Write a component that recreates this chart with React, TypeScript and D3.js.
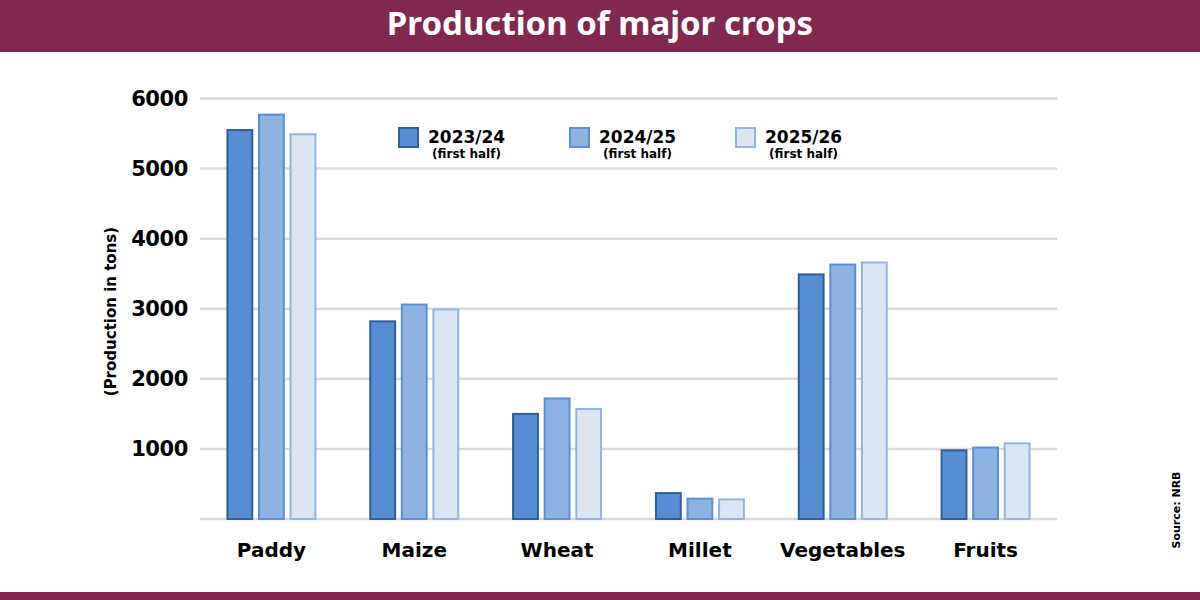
import React from 'react';
import * as d3 from 'd3';

const crops = ['Paddy', 'Maize', 'Wheat', 'Millet', 'Vegetables', 'Fruits'];
const seasons = ['2023/24', '2024/25', '2025/26'];
const prod2023 = [5550, 2820, 1500, 370, 3490, 980];
const prod2024 = [5770, 3060, 1720, 290, 3630, 1020];
const prod2025 = [5490, 2990, 1570, 280, 3660, 1080];
const yTicks = [1000, 2000, 3000, 4000, 5000, 6000];

const fills = ['#558ed5', '#8db3e2', '#dce6f2'];
const strokes = ['#2f5f92', '#5a8fd6', '#8eb5e4'];

const W = 1200;
const H = 600;
const maroon = '#7f2850';
const font = '"DejaVu Sans", Verdana, sans-serif';

const App: React.FC = () => {
  const series = [prod2023, prod2024, prod2025];

  const x0 = d3
    .scaleBand<string>()
    .domain(crops)
    .range([200, 1057])
    .paddingInner(0.37)
    .paddingOuter(0.185);
  const x1 = d3
    .scaleBand<number>()
    .domain([0, 1, 2])
    .range([0, x0.bandwidth()])
    .paddingInner(0.15);
  const y = d3.scaleLinear().domain([0, 6000]).range([519, 98.5]);

  const legendX = [398, 569, 735];

  return (
    <svg
      width={W}
      height={H}
      style={{ position: 'absolute', left: 0, top: 0, background: '#fff' }}
    >
      <rect x={0} y={0} width={W} height={H} fill='#fff' />
      {/* header band */}
      <rect x={0} y={0} width={W} height={52} fill={maroon} />
      <text
        x={600}
        y={35}
        textAnchor='middle'
        fill='#fff'
        fontFamily='"Noto Sans", sans-serif'
        fontWeight={700}
        fontSize={33}
      >
        Production of major crops
      </text>
      <rect x={0} y={592} width={W} height={8} fill={maroon} />

      {/* gridlines */}
      {[0, ...yTicks].map((t) => (
        <line
          key={t}
          x1={200}
          x2={1057}
          y1={y(t)}
          y2={y(t)}
          stroke='#d9d9d9'
          strokeWidth={2.5}
        />
      ))}
      {yTicks.map((t) => (
        <text
          key={t}
          x={188}
          y={y(t)}
          dy='0.36em'
          textAnchor='end'
          fontFamily={font}
          fontWeight={700}
          fontSize={21}
          letterSpacing={-0.4}
          fill='#000'
        >
          {t}
        </text>
      ))}
      <text
        transform={`translate(116,${y(2960)}) rotate(-90)`}
        textAnchor='middle'
        fontFamily={font}
        fontWeight={700}
        fontSize={15}
        fill='#000'
      >
        (Production in tons)
      </text>

      {/* bars */}
      {crops.map((c, i) => (
        <g key={c} transform={`translate(${x0(c)},0)`}>
          {series.map((s, j) => (
            <rect
              key={j}
              x={(x1(j) as number) + 1}
              y={y(s[i])}
              width={x1.bandwidth() - 2}
              height={y(0) - y(s[i])}
              fill={fills[j]}
              stroke={strokes[j]}
              strokeWidth={2}
            />
          ))}
          <text
            x={x0.bandwidth() / 2}
            y={557}
            textAnchor='middle'
            fontFamily={font}
            fontWeight={700}
            fontSize={20}
            fill='#000'
          >
            {c}
          </text>
        </g>
      ))}

      {/* legend */}
      {seasons.map((s, j) => (
        <g key={s} transform={`translate(${legendX[j]},127)`}>
          <rect
            x={1}
            y={1}
            width={19}
            height={19}
            fill={fills[j]}
            stroke={strokes[j]}
            strokeWidth={2}
          />
          <text
            x={30}
            y={16}
            fontFamily={font}
            fontWeight={700}
            fontSize={17}
            fill='#000'
          >
            {s}
          </text>
          <text
            x={68.5}
            y={31}
            textAnchor='middle'
            fontFamily={font}
            fontWeight={700}
            fontSize={12}
            fill='#000'
          >
            (first half)
          </text>
        </g>
      ))}

      <text
        transform='translate(1180,510) rotate(-90)'
        textAnchor='middle'
        fontFamily={font}
        fontWeight={700}
        fontSize={11}
        fill='#000'
      >
        Source: NRB
      </text>
    </svg>
  );
};

export default App;
